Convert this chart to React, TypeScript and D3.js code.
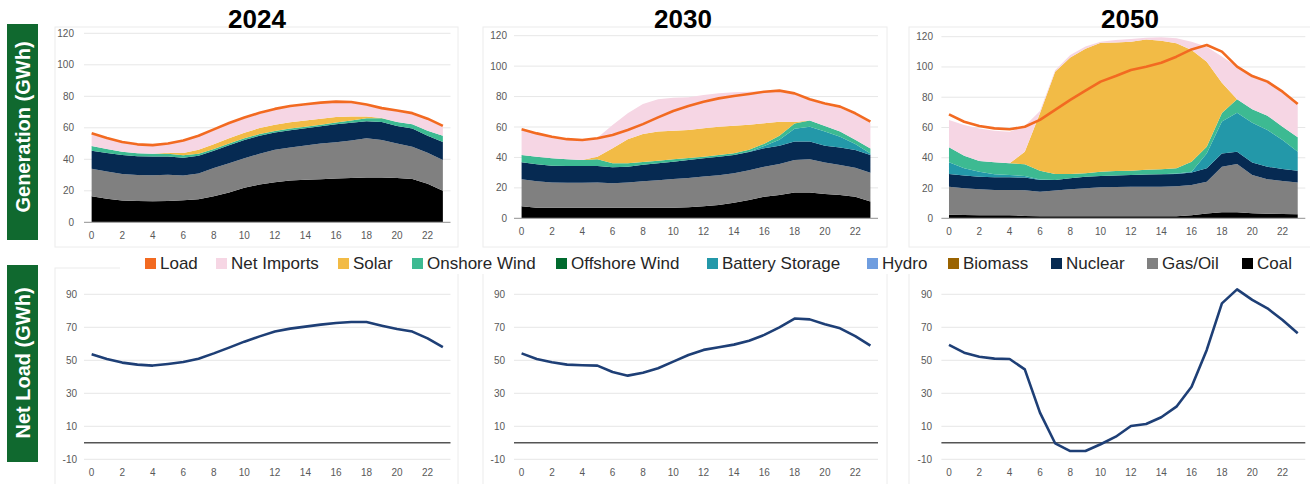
import React from 'react';
import * as d3 from 'd3';

// ---------- DATA ----------
const HOURS = [0, 1, 2, 3, 4, 5, 6, 7, 8, 9, 10, 11, 12, 13, 14, 15, 16, 17, 18, 19, 20, 21, 22, 23];
const YEARS = ['2024', '2030', '2050'];
const X_TICKS = [0, 2, 4, 6, 8, 10, 12, 14, 16, 18, 20, 22];
const TOP_TICKS = [0, 20, 40, 60, 80, 100, 120];
const BOTTOM_TICKS = [-10, 10, 30, 50, 70, 90];

const LEGEND_NAMES = ['Load', 'Net Imports', 'Solar', 'Onshore Wind', 'Offshore Wind', 'Battery Storage', 'Hydro', 'Biomass', 'Nuclear', 'Gas/Oil', 'Coal'];
const STACK_ORDER = ['Coal', 'Gas/Oil', 'Nuclear', 'Biomass', 'Hydro', 'Battery Storage', 'Offshore Wind', 'Onshore Wind', 'Solar', 'Net Imports'];

// 2024
const COAL_2024 = [16.5, 15, 13.8, 13.5, 13.3, 13.6, 14, 14.6, 16.6, 19, 22, 24, 25.5, 26.5, 27, 27.4, 27.8, 28.2, 28.5, 28.5, 28.2, 27.5, 24.5, 20];
const GAS_2024 = [17.5, 17.2, 16.9, 16.5, 16.5, 16.6, 15.7, 16.4, 17.9, 18.5, 18.6, 19.5, 20.5, 21, 21.8, 22.6, 23, 23.8, 24.8, 23.8, 21.8, 20.5, 19.7, 19.6];
const NUCLEAR_2024 = [11.5, 11.8, 12.1, 12, 12, 11.6, 11.3, 11.3, 11, 11.5, 11.7, 11.5, 11, 11, 10.9, 11, 11.4, 11.2, 10.8, 11.4, 11.2, 11.5, 10.8, 11.4];
const BIOMASS_2024 = [0, 0, 0, 0, 0, 0, 0, 0, 0, 0, 0, 0, 0, 0, 0, 0, 0, 0, 0, 0, 0, 0, 0, 0];
const HYDRO_2024 = [0, 0, 0, 0, 0, 0, 0, 0, 0, 0, 0, 0, 0, 0, 0, 0, 0, 0, 0, 0, 0, 0, 0, 0];
const BATTERY_2024 = [0, 0, 0, 0, 0, 0, 0, 0, 0, 0, 0, 0, 0, 0, 0, 0, 0, 0, 0, 0, 0, 0, 0, 0];
const OFFSHORE_2024 = [0, 0, 0, 0, 0, 0, 0, 0, 0, 0, 0, 0, 0, 0, 0, 0, 0, 0, 0, 0, 0, 0, 0, 0];
const ONSHORE_2024 = [3, 2.5, 2, 1.8, 1.8, 1.8, 1.5, 1.2, 1, 1, 1, 1, 1, 1, 1, 1, 1.2, 1.5, 2, 2.3, 2.5, 2.8, 3.2, 4];
const SOLAR_2024 = [0, 0, 0, 0, 0, 0.5, 1.5, 2.5, 3, 3.3, 3.5, 3.8, 4, 4, 4, 3.8, 3.5, 2.5, 1, 0.3, 0, 0, 0, 0];
const IMPORTS_2024 = [7.5, 6.6, 5.8, 5.3, 5, 5.5, 7.5, 8.5, 9, 9.2, 9.2, 9.2, 9.5, 9.8, 9.8, 9.7, 9.2, 8.7, 7.2, 5.7, 6.8, 6.5, 7.1, 5.7];
const LOAD_2024 = [56.5, 53.5, 51, 49.5, 49, 50, 52, 55, 59, 63, 66.5, 69.5, 72, 73.8, 75, 76, 76.6, 76.4, 74.8, 72.5, 71, 69.3, 65.8, 61.2];
const NETLOAD_2024 = [53.6, 50.8, 48.6, 47.4, 46.8, 47.8, 49, 51, 54.2, 57.7, 61.3, 64.5, 67.4, 69.2, 70.4, 71.6, 72.6, 73.2, 73.2, 71, 69, 67.4, 63.3, 58];

// 2030
const COAL_2030 = [8, 7, 7, 7, 7, 7, 7, 7, 7, 7, 7, 7.3, 8, 8.8, 10.3, 12, 14.2, 15.3, 16.9, 16.9, 16, 15.3, 14.2, 11];
const GAS_2030 = [17.6, 17.3, 16.5, 16.4, 16.4, 16.5, 16, 16.6, 17.3, 18, 18.8, 19.2, 19.4, 19.5, 19.3, 19.5, 19.7, 20.4, 21.4, 21.9, 20.6, 19.7, 19.1, 19];
const NUCLEAR_2030 = [11.2, 11.2, 11, 11, 11, 10.9, 10.5, 10.3, 10.9, 11.2, 11.4, 11.8, 12, 12.2, 12, 12, 12.1, 12, 12.1, 11.6, 11.1, 11.6, 11.6, 11.6];
const BIOMASS_2030 = [0, 0, 0, 0, 0, 0, 0, 0, 0, 0, 0, 0, 0, 0, 0, 0, 0, 0, 0, 0, 0, 0, 0, 0];
const HYDRO_2030 = [0, 0, 0, 0, 0, 0, 0, 0, 0, 0, 0, 0, 0, 0, 0, 0, 0, 0, 0, 0, 0, 0, 0, 0];
const BATTERY_2030 = [0, 0, 0, 0, 0, 0, 0, 0, 0, 0, 0, 0, 0, 0, 0, 0.3, 1.5, 4, 8.5, 9.8, 9.3, 7, 4, 1];
const OFFSHORE_2030 = [0, 0, 0, 0, 0, 0, 0, 0, 0, 0, 0, 0, 0, 0, 0, 0, 0, 0, 0, 0, 0, 0, 0, 0];
const ONSHORE_2030 = [4.8, 5, 4.9, 4.4, 3.9, 4.4, 2.6, 2.2, 1.8, 1.7, 1.6, 1.3, 1.1, 1.1, 1.1, 1.2, 1.5, 2.5, 3.4, 4, 3.7, 3.4, 2.7, 3.3];
const SOLAR_2030 = [0, 0, 0, 0, 0, 1.7, 9.9, 15.8, 18.4, 19.1, 18.8, 18.4, 18.6, 18.6, 18.2, 16.5, 13.4, 9.3, 1, 0, 0, 0, 0, 0];
const IMPORTS_2030 = [16.5, 15.2, 14.5, 13.2, 13.2, 12.5, 15.3, 17.1, 19.7, 21.2, 21.7, 21.5, 21.9, 21.9, 21.9, 21.7, 21.3, 19.7, 18.2, 13.5, 13.9, 15.5, 16.6, 16.8];
const LOAD_2030 = [58.5, 55.8, 53.6, 52, 51.5, 52.6, 54.7, 58, 61.9, 66.3, 70.5, 73.8, 76.6, 78.8, 80.4, 81.7, 83.2, 83.9, 82.1, 78.2, 75.5, 73.4, 69, 63.5];
const NETLOAD_2030 = [54.2, 50.8, 48.8, 47.4, 47, 46.8, 42.9, 40.7, 42.5, 45.2, 49.2, 53.2, 56.3, 57.9, 59.5, 61.9, 65.4, 70, 75.3, 74.8, 71.8, 69.4, 64.7, 58.9];

// 2050
const COAL_2050 = [2.3, 2.2, 2, 2, 2, 1.6, 1.3, 1.3, 1.3, 1.3, 1.3, 1.3, 1.3, 1.3, 1.3, 1.3, 2, 3.2, 4, 4, 3.4, 3, 2.8, 2.6];
const GAS_2050 = [18.6, 17.6, 17.2, 16.7, 16.7, 17, 16.3, 17, 17.9, 18.5, 19.2, 19.4, 19.6, 19.6, 19.6, 19.8, 20, 21, 30.1, 31.9, 25.2, 22.8, 21.9, 21];
const NUCLEAR_2050 = [8.4, 8.4, 8.3, 8.4, 8.4, 8.3, 7.7, 7, 7.2, 7.7, 7.5, 7.6, 7.7, 8, 8.2, 8.2, 8.2, 8.8, 8.8, 8.1, 8.2, 8.3, 7.9, 7.9];
const BIOMASS_2050 = [0, 0, 0, 0, 0, 0, 0, 0, 0, 0, 0, 0, 0, 0, 0, 0, 0, 0, 0, 0, 0, 0, 0, 0];
const HYDRO_2050 = [0, 0, 0, 0, 0, 0, 0, 0, 0, 0, 0, 0, 0, 0, 0, 0, 0, 0, 0, 0, 0, 0, 0, 0];
const BATTERY_2050 = [7.7, 4.8, 3.3, 2, 1.5, 1, 0.3, 0, 0, 0, 0, 0, 0, 0, 0, 0.3, 0.6, 9.9, 21, 25.8, 26.4, 24.2, 19.1, 12.5];
const OFFSHORE_2050 = [0, 0, 0, 0, 0, 0, 0, 0, 0, 0, 0, 0, 0, 0, 0, 0, 0, 0, 0, 0, 0, 0, 0, 0];
const ONSHORE_2050 = [9.9, 8.4, 7.1, 7.9, 7.7, 7.8, 5.9, 4, 2.9, 2.2, 2.8, 2.9, 2.9, 3.1, 3.3, 3.4, 6.6, 4.4, 5.6, 8.8, 8.8, 9.5, 8.8, 9.5];
const SOLAR_2050 = [0, 0, 0, 0, 0, 8.3, 37.9, 67.6, 77, 82.4, 85.2, 85, 85.2, 86.2, 84.9, 82.6, 73.8, 56.2, 20, 0, 0, 0, 0, 0];
const IMPORTS_2050 = [18.1, 20.2, 21.5, 20.9, 20.9, 17, 1.5, 1, 1.6, 1.5, 0.7, 1.6, 1.8, 1.1, 2.3, 3.3, 5.5, 9.9, 17.4, 21.6, 22.7, 23.6, 23.2, 21.4];
const LOAD_2050 = [68.7, 63.8, 61, 59.4, 58.8, 60.5, 65, 71.6, 78.2, 84.3, 90.3, 94, 98, 100.2, 102.8, 106.8, 111.6, 114.5, 110.1, 100.2, 94, 90.3, 83.7, 75.5];
const NETLOAD_2050 = [59.3, 54.6, 52.2, 51, 50.8, 44.5, 18.3, -0.3, -5, -5, -0.9, 3.7, 10.2, 11.4, 15.5, 21.9, 34, 56.3, 84.5, 93, 86.6, 81.5, 74.4, 66.4];

const GEN_BY_YEAR: Record<string, Record<string, number[]>> = {
  '2024': { 'Coal': COAL_2024, 'Gas/Oil': GAS_2024, 'Nuclear': NUCLEAR_2024, 'Biomass': BIOMASS_2024, 'Hydro': HYDRO_2024, 'Battery Storage': BATTERY_2024, 'Offshore Wind': OFFSHORE_2024, 'Onshore Wind': ONSHORE_2024, 'Solar': SOLAR_2024, 'Net Imports': IMPORTS_2024 },
  '2030': { 'Coal': COAL_2030, 'Gas/Oil': GAS_2030, 'Nuclear': NUCLEAR_2030, 'Biomass': BIOMASS_2030, 'Hydro': HYDRO_2030, 'Battery Storage': BATTERY_2030, 'Offshore Wind': OFFSHORE_2030, 'Onshore Wind': ONSHORE_2030, 'Solar': SOLAR_2030, 'Net Imports': IMPORTS_2030 },
  '2050': { 'Coal': COAL_2050, 'Gas/Oil': GAS_2050, 'Nuclear': NUCLEAR_2050, 'Biomass': BIOMASS_2050, 'Hydro': HYDRO_2050, 'Battery Storage': BATTERY_2050, 'Offshore Wind': OFFSHORE_2050, 'Onshore Wind': ONSHORE_2050, 'Solar': SOLAR_2050, 'Net Imports': IMPORTS_2050 },
};
const LOAD_BY_YEAR: Record<string, number[]> = { '2024': LOAD_2024, '2030': LOAD_2030, '2050': LOAD_2050 };
const NETLOAD_BY_YEAR: Record<string, number[]> = { '2024': NETLOAD_2024, '2030': NETLOAD_2030, '2050': NETLOAD_2050 };

// ---------- STYLE / LAYOUT ----------
const COLORS: Record<string, string> = {
  'Load': '#f26a21',
  'Net Imports': '#f6d6e4',
  'Solar': '#f2bb46',
  'Onshore Wind': '#3dba92',
  'Offshore Wind': '#006a2e',
  'Battery Storage': '#2398a9',
  'Hydro': '#6f9ddf',
  'Biomass': '#9a6300',
  'Nuclear': '#062a52',
  'Gas/Oil': '#808080',
  'Coal': '#000000',
};
const NETLOAD_COLOR = '#1e3f76';
const LABEL_GREEN = '#10692f';
const FONT = "'Liberation Sans', Arial, Helvetica, sans-serif";

const COLS = [
  { x0: 84, x1: 450.5, top0: 222.3, top120: 33.3, titleX: 257, cardX0: 55, cardX1: 458, labelTopY: 239, yLabTop: 74, yLabBot: 77 },
  { x0: 514, x1: 878, top0: 218.3, top120: 35.7, titleX: 683, cardX0: 483, cardX1: 887, labelTopY: 235, yLabTop: 507, yLabBot: 505 },
  { x0: 941.4, x1: 1305.3, top0: 218.3, top120: 36.7, titleX: 1130, cardX0: 909, cardX1: 1312, labelTopY: 235, yLabTop: 933, yLabBot: 932 },
];
const LEGEND_X = [145, 216, 338, 412, 556, 707, 867, 948, 1051, 1147, 1242];

function Panel({ year, col }: { year: string; col: typeof COLS[number] }) {
  const x = d3.scaleLinear().domain([-0.5, 23.5]).range([col.x0, col.x1]);
  const yTop = d3.scaleLinear().domain([0, 120]).range([col.top0, col.top120]);
  const yBot = d3.scaleLinear().domain([-10, 90]).range([459.3, 294.3]);

  const gen = GEN_BY_YEAR[year];
  const rows = HOURS.map((h, i) => {
    const r: any = { hour: h };
    STACK_ORDER.forEach((k) => (r[k] = gen[k][i]));
    return r;
  });
  const stacked = d3.stack<any>().keys(STACK_ORDER)(rows);
  const area = d3
    .area<any>()
    .x((d) => x(d.data.hour))
    .y0((d) => yTop(d[0]))
    .y1((d) => yTop(d[1]));
  const loadLine = d3
    .line<number>()
    .x((_, i) => x(HOURS[i]))
    .y((d) => yTop(d));
  const netLine = d3
    .line<number>()
    .x((_, i) => x(HOURS[i]))
    .y((d) => yBot(d));

  return (
    <g>
      {/* cards */}
      <rect x={col.cardX0} y={27} width={col.cardX1 - col.cardX0} height={220} fill="none" stroke="#ececec" />
      <rect x={col.cardX0} y={268} width={col.cardX1 - col.cardX0} height={230} fill="none" stroke="#ececec" />
      {/* title */}
      <text x={col.titleX} y={28} textAnchor="middle" fontSize={26} fontWeight="bold" fontFamily={FONT} fill="#000">
        {year}
      </text>
      {/* top grid */}
      {TOP_TICKS.filter((t) => t > 0).map((t) => (
        <line key={t} x1={col.x0} x2={col.x1} y1={yTop(t)} y2={yTop(t)} stroke="#e7e7e7" strokeWidth={1} />
      ))}
      {TOP_TICKS.map((t) => (
        <text key={'yl' + t} x={col.yLabTop} y={yTop(t) + 3.5} textAnchor="end" fontSize={10} fontFamily={FONT} fill="#595959">
          {t}
        </text>
      ))}
      {stacked.map((s) => (
        <path key={s.key} d={area(s) || ''} fill={COLORS[s.key]} />
      ))}
      <line x1={col.x0} x2={col.x1} y1={yTop(0)} y2={yTop(0)} stroke="#a6a6a6" strokeWidth={1.2} />
      <path d={loadLine(LOAD_BY_YEAR[year]) || ''} fill="none" stroke={COLORS['Load']} strokeWidth={2.6} strokeLinejoin="round" />
      {X_TICKS.map((t) => (
        <text key={'xt' + t} x={x(t)} y={col.labelTopY} textAnchor="middle" fontSize={10} fontFamily={FONT} fill="#595959">
          {t}
        </text>
      ))}
      {/* bottom */}
      {BOTTOM_TICKS.map((t) => (
        <line key={'bg' + t} x1={col.x0} x2={col.x1} y1={yBot(t)} y2={yBot(t)} stroke="#e7e7e7" strokeWidth={1} />
      ))}
      {BOTTOM_TICKS.map((t) => (
        <text key={'bl' + t} x={col.yLabBot} y={yBot(t) + 3.5} textAnchor="end" fontSize={10} fontFamily={FONT} fill="#595959">
          {t}
        </text>
      ))}
      <line x1={col.x0} x2={col.x1} y1={yBot(0)} y2={yBot(0)} stroke="#555" strokeWidth={1.5} />
      <path d={netLine(NETLOAD_BY_YEAR[year]) || ''} fill="none" stroke={NETLOAD_COLOR} strokeWidth={2.6} strokeLinejoin="round" />
      {X_TICKS.map((t) => (
        <text key={'bx' + t} x={x(t)} y={475.5} textAnchor="middle" fontSize={10} fontFamily={FONT} fill="#595959">
          {t}
        </text>
      ))}
    </g>
  );
}

export default function App() {
  return (
    <svg
      width={1310}
      height={484}
      viewBox="0 0 1310 484"
      style={{ position: 'absolute', left: 0, top: 0, background: '#fff' }}
    >
      <rect x={0} y={0} width={1310} height={484} fill="#fff" />
      {YEARS.map((y, i) => (
        <Panel key={y} year={y} col={COLS[i]} />
      ))}
      {/* side labels */}
      <rect x={7} y={24} width={31} height={216} fill={LABEL_GREEN} />
      <text
        transform="translate(30,127) rotate(-90)"
        textAnchor="middle"
        fontSize={20}
        fontWeight="bold"
        fontFamily={FONT}
        fill="#fff"
      >
        Generation (GWh)
      </text>
      <rect x={7} y={265} width={31} height={197} fill={LABEL_GREEN} />
      <text
        transform="translate(30,363) rotate(-90)"
        textAnchor="middle"
        fontSize={20}
        fontWeight="bold"
        fontFamily={FONT}
        fill="#fff"
      >
        Net Load (GWh)
      </text>
      {/* legend */}
      <rect x={120} y={252} width={1190} height={22} fill="#fff" />
      {LEGEND_NAMES.map((n, i) => (
        <g key={n}>
          <rect x={LEGEND_X[i]} y={258} width={11} height={11} fill={COLORS[n]} />
          <text x={LEGEND_X[i] + 15} y={268.5} fontSize={17} fontFamily={FONT} fill="#262626">
            {n}
          </text>
        </g>
      ))}
    </svg>
  );
}
